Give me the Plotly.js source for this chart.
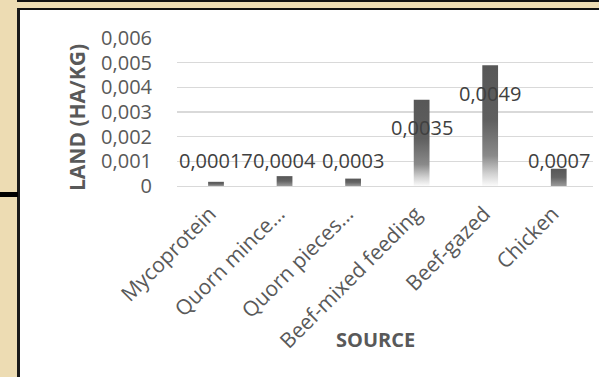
<!DOCTYPE html>
<html>
<head>
<meta charset="utf-8">
<script src="https://cdn.plot.ly/plotly-3.0.1.min.js"></script>
<style>
  html, body { margin:0; padding:0; width:599px; height:377px; overflow:hidden;
    background:#eddcb3; }
  #topline { position:absolute; left:17px; top:0px; width:582px; height:2px; background:#111; }
  #frame { position:absolute; left:17px; top:8px; width:582px; height:369px; background:#fff;
    border-left:3px solid #1a1a1a; border-top:2px solid #111; box-sizing:border-box; }
  #bar { position:absolute; left:0; top:192px; width:18px; height:5px; background:#000; }
  #chart { position:absolute; left:0; top:0; width:599px; height:377px; }
</style>
</head>
<body>
<div id="topline"></div>
<div id="frame"></div>
<div id="bar"></div>
<div id="chart"></div>
<script>
const categories = ["Mycoprotein", "Quorn mince…", "Quorn pieces…", "Beef-mixed feeding", "Beef-gazed", "Chicken"];
const landValues = [0.00017, 0.0004, 0.0003, 0.0035, 0.0049, 0.0007];
const labelTexts = ["0,00017", "0,0004", "0,0003", "0,0035", "0,0049", "0,0007"];
const yTickVals = [0, 0.001, 0.002, 0.003, 0.004, 0.005, 0.006];
const yTickText = ["0", "0,001", "0,002", "0,003", "0,004", "0,005", "0,006"];

const FONT = "Open Sans, Noto Sans, sans-serif";

const annotations = categories.map((c, i) => {
  const tall = landValues[i] > 0.002;
  return {
    x: c, y: tall ? landValues[i] : 0, xref: "x", yref: "y",
    text: labelTexts[i], showarrow: false,
    yanchor: "middle", xanchor: "center",
    yshift: tall ? -28 : 26,
    font: {family: FONT, size: 20, color: "#404040"}
  };
});
annotations.push({
  xref: "paper", yref: "paper", x: 0.477, y: 0, yshift: -153,
  xanchor: "center", yanchor: "middle", showarrow: false,
  text: "<b>SOURCE</b>", font: {family: FONT, size: 20, color: "#595959"}
});
annotations.push({
  xref: "paper", yref: "paper", x: 0, y: 0.5, xshift: -100, yshift: -6,
  xanchor: "center", yanchor: "middle", showarrow: false, textangle: -90,
  text: "<b>LAND (HA/KG)</b>", font: {family: FONT, size: 21, color: "#595959"}
});

const trace = {
  type: "bar", x: categories, y: landValues,
  marker: {color: "#5a5a5a", line: {width: 0}},
  hoverinfo: "skip"
};

const layout = {
  width: 599, height: 377,
  margin: {l: 177, r: 6, t: 38, b: 191, pad: 0},
  paper_bgcolor: "rgba(0,0,0,0)", plot_bgcolor: "rgba(0,0,0,0)",
  bargap: 0.77,
  showlegend: false,
  font: {family: FONT, size: 20, color: "#595959"},
  xaxis: {
    type: "category", tickangle: -45, ticks: "", showgrid: false,
    showline: true, linecolor: "#d9d9d9", linewidth: 1.3, zeroline: false,
    ticklabelstandoff: 6, ticklabelshift: -6,
    tickfont: {family: FONT, size: 21, color: "#595959"}, automargin: false
  },
  yaxis: {
    range: [0, 0.006], tickvals: yTickVals, ticktext: yTickText,
    showgrid: true, gridcolor: "#d9d9d9", gridwidth: 1.3, zeroline: false,
    showline: false, ticks: "", ticklabelstandoff: 24,
    tickfont: {family: FONT, size: 20, color: "#595959"}, automargin: false
  },
  annotations: annotations
};

Plotly.newPlot("chart", [trace], layout, {staticPlot: true, displayModeBar: false}).then(gd => {
  const svg = gd.querySelector(".main-svg");
  const ns = "http://www.w3.org/2000/svg";
  let defs = svg.querySelector("defs");
  if (!defs) { defs = document.createElementNS(ns, "defs"); svg.insertBefore(defs, svg.firstChild); }
  function grad(id, stops) {
    const g = document.createElementNS(ns, "linearGradient");
    g.setAttribute("id", id);
    g.setAttribute("x1", "0"); g.setAttribute("y1", "0");
    g.setAttribute("x2", "0"); g.setAttribute("y2", "1");
    stops.forEach(s => {
      const st = document.createElementNS(ns, "stop");
      st.setAttribute("offset", s[0]); st.setAttribute("stop-color", s[1]);
      g.appendChild(st);
    });
    defs.appendChild(g);
  }
  grad("gradTall", [["0", "#575757"], ["0.45", "#5f5f5f"], ["0.75", "#8a8a8a"], ["0.9", "#d2d2d2"], ["1", "#fbfbfb"]]);
  grad("gradShort", [["0", "#575757"], ["0.5", "#646464"], ["1", "#9a9a9a"]]);
  gd.querySelectorAll(".bars .point path").forEach((p, i) => {
    p.style.fill = landValues[i] > 0.002 ? "url(#gradTall)" : "url(#gradShort)";
  });
});
</script>
</body>
</html>
